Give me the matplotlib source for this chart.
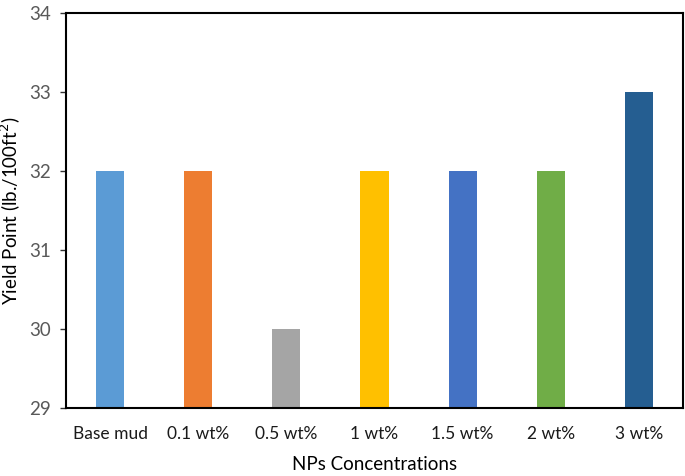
import matplotlib
matplotlib.use("Agg")
import matplotlib.pyplot as plt

categories = ["Base mud", "0.1 wt%", "0.5 wt%", "1 wt%", "1.5 wt%", "2 wt%", "3 wt%"]
values = [32, 32, 30, 32, 32, 32, 33]
colors = ["#5B9BD5", "#ED7D31", "#A5A5A5", "#FFC000", "#4472C4", "#70AD47", "#255E91"]
yticks = [29, 30, 31, 32, 33, 34]

plt.rcParams['font.family'] = ['Lato', 'DejaVu Sans']

fig = plt.figure(figsize=(6.85, 4.76), dpi=100)
ax = fig.add_axes([0.0964, 0.143, 0.9006, 0.830])
x = range(len(categories))
ax.bar(x, [v - 29 for v in values], bottom=29, width=0.32, color=colors)
ax.set_ylim(29, 34)
ax.set_xlim(-0.5, len(categories) - 0.5)
ax.set_yticks(yticks)
ax.set_yticklabels([str(t) for t in yticks], fontsize=13.5, color="#595959")
ax.set_xticks(list(x))
ax.set_xticklabels(categories, fontsize=12.5, color="#1a1a1a")
ax.tick_params(axis='x', length=0, pad=13)
ax.tick_params(axis='y', length=4, width=1, direction='out', pad=7, color='#333333')
for s in ax.spines.values():
    s.set_color('black')
    s.set_linewidth(1.5)
ax.set_xlabel("NPs Concentrations", fontsize=13.5, labelpad=10)
ax.set_ylabel("Yield Point (lb./100ft$^2$)", fontsize=13.5, labelpad=4)
fig.savefig("out.png", dpi=100)
